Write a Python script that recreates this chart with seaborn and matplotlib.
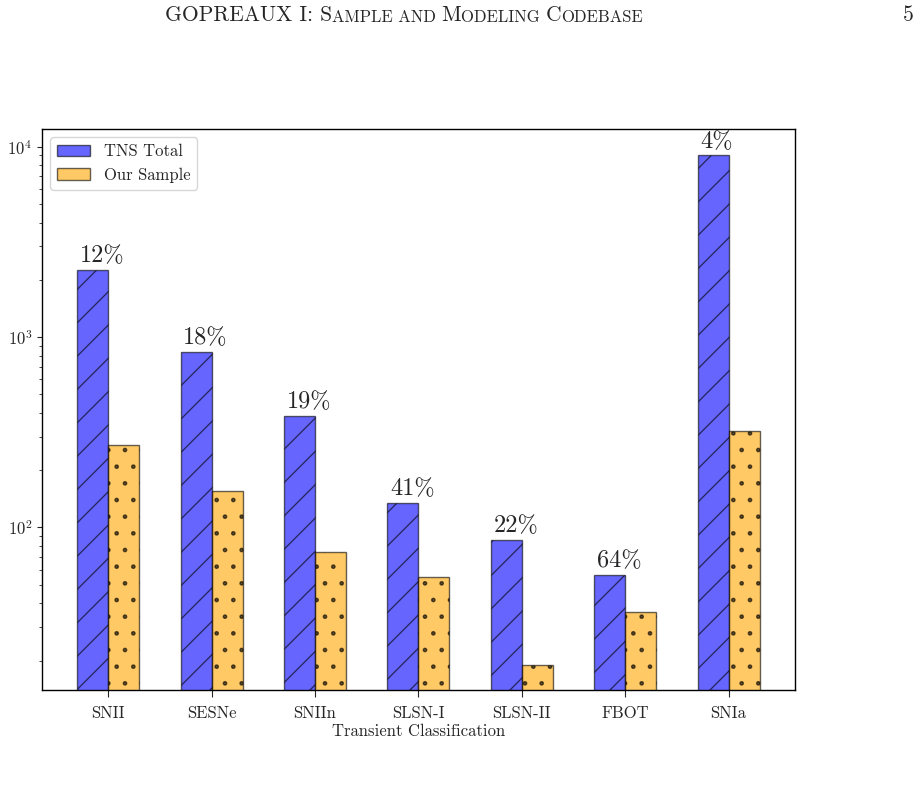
import pandas as pd
import seaborn as sns
import matplotlib.pyplot as plt
from matplotlib.patches import Patch

# --- Data ---
classes = ["SNII", "SESNe", "SNIIn", "SLSN-I", "SLSN-II", "FBOT", "SNIa"]
tns_total = [2250, 840, 385, 134, 86, 56, 9000]
our_sample = [272, 155, 74, 55, 19, 36, 320]
pct_labels = ["12%", "18%", "19%", "41%", "22%", "64%", "4%"]

df = pd.DataFrame({
    "Class": classes * 2,
    "Count": tns_total + our_sample,
    "Set": ["TNS Total"] * len(classes) + ["Our Sample"] * len(classes),
})

# --- Style ---
sns.set_style("ticks")
plt.rcParams["font.family"] = ["serif"]
plt.rcParams["font.serif"] = ["cmr10", "DejaVu Serif"]
plt.rcParams["mathtext.fontset"] = "cm"
plt.rcParams["axes.formatter.use_mathtext"] = True
plt.rcParams["axes.unicode_minus"] = False
plt.rcParams["hatch.linewidth"] = 1.0

palette = {"TNS Total": "blue", "Our Sample": "orange"}

fig = plt.figure(figsize=(9.23, 7.90), dpi=100)
ax = fig.add_axes([0.0455, 0.1266, 0.8155, 0.7101])

sns.barplot(data=df, x="Class", y="Count", hue="Set", palette=palette,
            width=0.6, saturation=1, alpha=0.6, edgecolor="black",
            linewidth=1.0, legend=False, ax=ax)

for cont, hatch in zip(ax.containers, ["/", "."]):
    for bar in cont:
        bar.set_hatch(hatch)

ax.set_yscale("log")
ax.set_ylim(14, 12400)
ax.set_xlim(-0.64, 6.64)

# percentage labels above TNS bars (left aligned on the bar)
for bar, lab in zip(ax.containers[0], pct_labels):
    ax.annotate(lab, (bar.get_x(), bar.get_height()),
                xytext=(2, 2), textcoords="offset points",
                ha="left", va="bottom", fontsize=17.5)

ax.set_xlabel("Transient Classification", fontsize=12, labelpad=2)
ax.set_ylabel("")
ax.tick_params(axis="x", labelsize=12, pad=6, length=5)
ax.tick_params(axis="y", labelsize=12)
for sp in ax.spines.values():
    sp.set_visible(True)
    sp.set_linewidth(1.0)
    sp.set_color("black")

handles = [Patch(facecolor="blue", alpha=0.6, edgecolor="black", label="TNS Total"),
           Patch(facecolor="orange", alpha=0.6, edgecolor="black", label="Our Sample")]
ax.legend(handles=handles, loc="upper left", fontsize=12)

# --- page header (small caps imitation) ---
pieces = [("GOPREAUX I: S", 15.5), ("AMPLE AND ", 12), ("M", 15.5), ("ODELING ", 12),
          ("C", 15.5), ("ODEBASE", 12)]
prev = fig.text(0.179, 0.973, pieces[0][0], fontsize=pieces[0][1], va="baseline")
for txt, fs in pieces[1:]:
    prev = ax.annotate(txt, xy=(1, 0), xycoords=prev, fontsize=fs,
                       va="bottom", ha="left", annotation_clip=False)
fig.text(0.99, 0.973, "5", fontsize=15.5, ha="right", va="baseline")

fig.savefig("out.png", dpi=100)
